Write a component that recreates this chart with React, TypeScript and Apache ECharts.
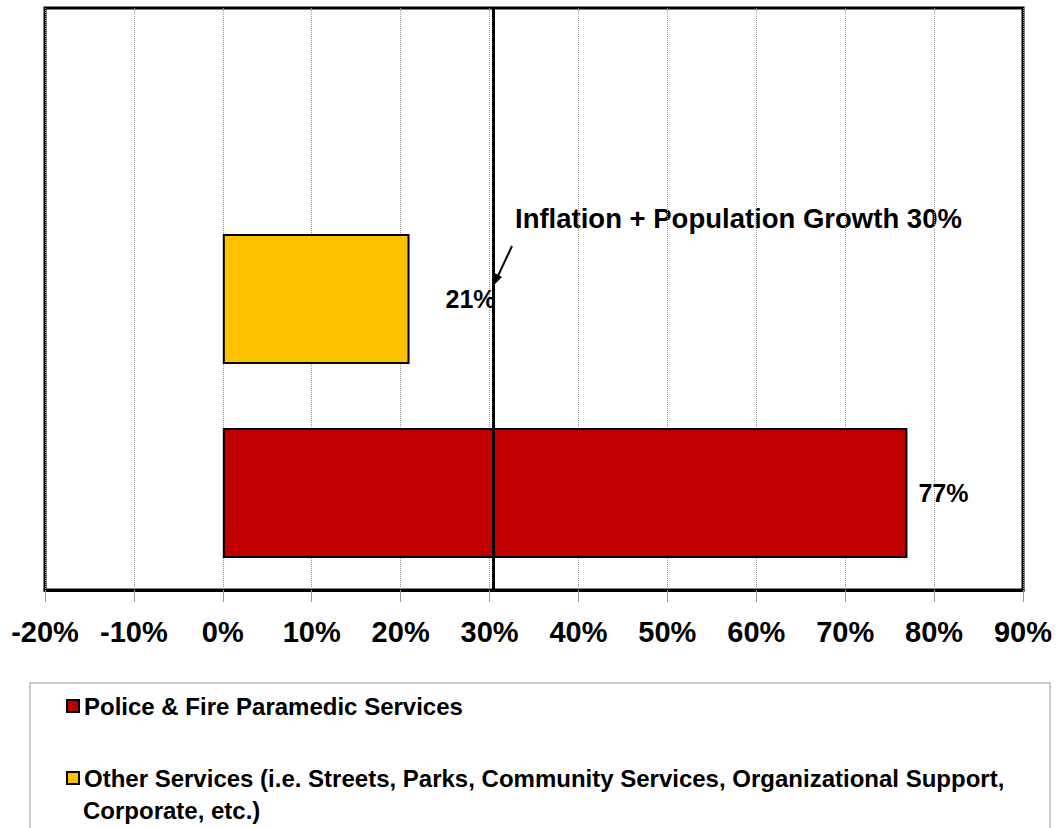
import React, { useEffect, useRef } from "react";
import * as echarts from "echarts";

const categories = ["Police & Fire Paramedic Services", "Other Services", ""];
const seriesNames = [
  "Police & Fire Paramedic Services",
  "Other Services (i.e. Streets, Parks, Community Services, Organizational Support, Corporate, etc.)",
];
const policeValues = [77, null, null];
const otherValues = [null, 21, null];
const benchmark = 30.4;
const annotationText = "Inflation + Population Growth 30%";
const xMin = -20;
const xMax = 90;
const xStep = 10;

const FONT = "'Liberation Sans', Arial, sans-serif";

export default function App() {
  const ref = useRef<HTMLDivElement>(null);
  useEffect(() => {
    document.body.style.margin = "0";
    const chart = echarts.init(ref.current!, null, { renderer: "svg" });
    const labelBase = {
      show: true,
      position: "right",
      fontFamily: FONT,
      fontWeight: "bold",
      fontSize: 25,
      color: "#000",
      formatter: (p: any) => `${p.value}%`,
    };
    chart.setOption({
      animation: false,
      backgroundColor: "#fff",
      textStyle: { fontFamily: FONT },
      grid: {
        show: true,
        left: 45,
        right: 36,
        top: 8,
        bottom: 238,
        borderColor: "#000",
        borderWidth: 3,
        containLabel: false,
      },
      xAxis: {
        type: "value",
        min: xMin,
        max: xMax,
        interval: xStep,
        axisLine: { show: true, lineStyle: { color: "#000", width: 3 } },
        axisTick: { show: true, length: 12, lineStyle: { color: "#999", width: 1 } },
        axisLabel: {
          formatter: "{value}%",
          fontFamily: FONT,
          fontSize: 29,
          fontWeight: "bold",
          color: "#000",
          margin: 27,
        },
        splitLine: { show: true, lineStyle: { color: "#999", type: "dotted", width: 1 } },
      },
      yAxis: {
        type: "category",
        data: categories,
        axisLine: { show: false },
        axisTick: { show: false },
        axisLabel: { show: false },
        splitLine: { show: false },
      },
      legend: [
        {
          data: [seriesNames[0]],
          left: 61,
          top: 689,
          orient: "vertical",
          selectedMode: false,
          itemWidth: 12,
          itemHeight: 12,
          icon: "rect",
          textStyle: { fontFamily: FONT, fontSize: 24, fontWeight: "bold", color: "#000" },
        },
        {
          data: [seriesNames[1]],
          left: 61,
          top: 761,
          orient: "vertical",
          selectedMode: false,
          itemWidth: 12,
          itemHeight: 12,
          icon: "rect",
          formatter: () =>
            "Other Services (i.e. Streets, Parks, Community Services, Organizational Support,",
          textStyle: { fontFamily: FONT, fontSize: 24, fontWeight: "bold", color: "#000" },
        },
      ],
      graphic: [
        {
          type: "rect",
          shape: { x: 30, y: 683, width: 1020, height: 170 },
          style: { fill: "none", stroke: "#bbb", lineWidth: 1.5 },
          silent: true,
        },
        {
          type: "text",
          left: 83,
          top: 798,
          style: {
            text: "Corporate, etc.)",
            font: `bold 24px ${FONT}`,
            fill: "#000",
          },
        },
        {
          type: "text",
          left: 515,
          top: 204,
          style: {
            text: annotationText,
            font: `bold 27.5px ${FONT}`,
            fill: "#000",
          },
        },
        {
          type: "line",
          shape: { x1: 512, y1: 246, x2: 497, y2: 278 },
          style: { stroke: "#000", lineWidth: 2 },
        },
        {
          type: "polygon",
          shape: { points: [[494, 285], [502, 277], [494.6, 273]] },
          style: { fill: "#000" },
        },
      ],
      series: [
        {
          name: seriesNames[0],
          type: "bar",
          stack: "all",
          barWidth: "67%",
          data: policeValues,
          itemStyle: { color: "#C00000", borderColor: "#000", borderWidth: 2 },
          label: { ...labelBase, distance: 11 },
          z: 2,
        },
        {
          name: seriesNames[1],
          type: "bar",
          stack: "all",
          barWidth: "67%",
          data: otherValues,
          itemStyle: { color: "#FFC000", borderColor: "#000", borderWidth: 2 },
          label: { ...labelBase, distance: 36 },
          markLine: {
            silent: true,
            symbol: ["none", "none"],
            label: { show: false },
            lineStyle: { color: "#000", width: 3, type: "solid" },
            data: [{ xAxis: benchmark }],
            z: 10,
          },
          z: 2,
        },
      ],
    });
    return () => chart.dispose();
  }, []);
  return <div ref={ref} style={{ width: 1059, height: 828 }} />;
}
